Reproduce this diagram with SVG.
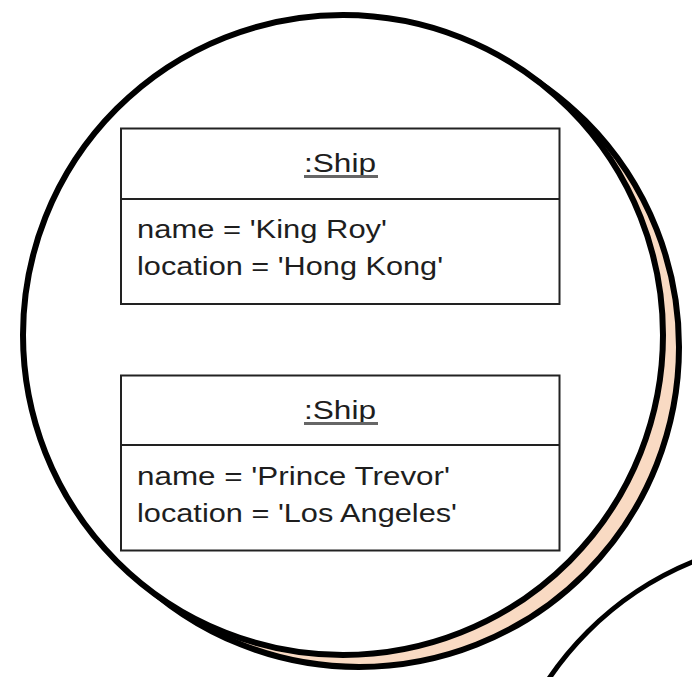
<svg xmlns="http://www.w3.org/2000/svg" width="692" height="677" viewBox="0 0 692 677">
  <style>
    .ring { stroke: #000; stroke-width: 6; }
    .box { fill: #fff; stroke: #222; stroke-width: 2; }
    .div { stroke: #222; stroke-width: 2; }
    .t { font-family: "Liberation Sans", Arial, sans-serif; font-size: 25px; fill: #1e1e1e; }
    .ul { stroke: #666; stroke-width: 3; }
  </style>
  <rect x="0" y="0" width="692" height="677" fill="#fff"/>
  <g id="boundary2">
    <circle cx="814" cy="858" r="320" fill="#fff" stroke="#000" stroke-width="5"/>
  </g>
  <g id="boundary">
    <circle cx="359" cy="347" r="320" class="ring" fill="#F9DAC3"/>
    <circle cx="343" cy="335" r="320" class="ring" fill="#fff"/>
  </g>
  <g id="ship1">
    <rect x="121" y="128.5" width="438.5" height="175.5" class="box"/>
    <line x1="121" y1="199" x2="559.5" y2="199" class="div"/>
    <text x="340" y="172" text-anchor="middle" class="t" textLength="72" lengthAdjust="spacingAndGlyphs">:Ship</text>
    <line x1="304" y1="176.5" x2="378" y2="176.5" class="ul"/>
    <text x="137" y="238" class="t" textLength="250" lengthAdjust="spacingAndGlyphs">name = 'King Roy'</text>
    <text x="137" y="275" class="t" textLength="306" lengthAdjust="spacingAndGlyphs">location = 'Hong Kong'</text>
  </g>
  <g id="ship2">
    <rect x="121" y="375.5" width="438.5" height="175" class="box"/>
    <line x1="121" y1="445" x2="559.5" y2="445" class="div"/>
    <text x="340" y="419" text-anchor="middle" class="t" textLength="72" lengthAdjust="spacingAndGlyphs">:Ship</text>
    <line x1="304" y1="423.5" x2="378" y2="423.5" class="ul"/>
    <text x="137" y="485" class="t" textLength="313" lengthAdjust="spacingAndGlyphs">name = 'Prince Trevor'</text>
    <text x="137" y="522" class="t" textLength="320" lengthAdjust="spacingAndGlyphs">location = 'Los Angeles'</text>
  </g>
  <g id="connectors"/>
</svg>
